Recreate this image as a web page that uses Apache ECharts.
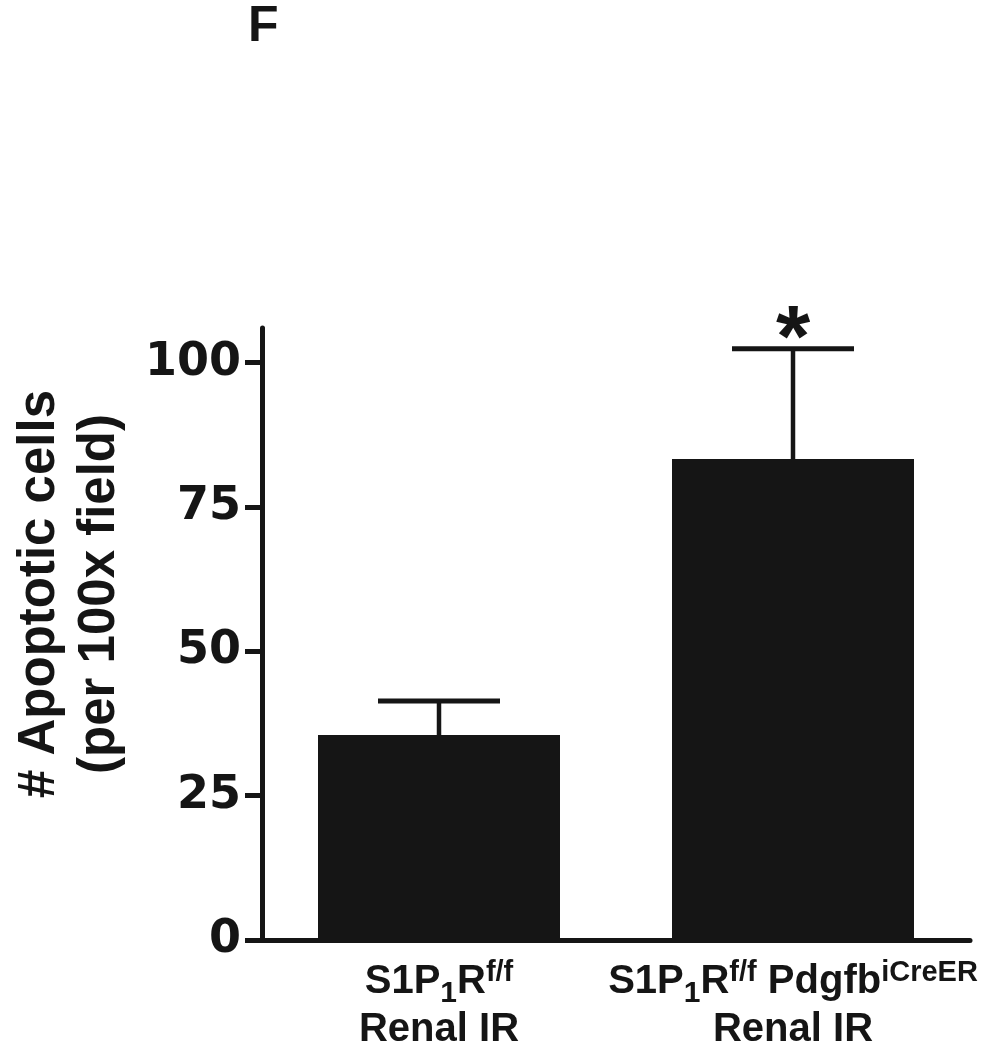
<!DOCTYPE html>
<html>
<head>
<meta charset="utf-8">
<script src="https://cdn.jsdelivr.net/npm/echarts@6/dist/echarts.min.js"></script>
<style>
  html, body { margin: 0; padding: 0; background: #fff; }
  #chart { width: 990px; height: 1050px; }
</style>
</head>
<body>
<div id="chart"></div>
<script>
// groups (rich text: sub / sup)
var groups = [
    '{n|S1P}{sub|1}{n|R}{sup|f/f}\n{n|Renal IR}',
    '{n|S1P}{sub|1}{n|R}{sup|f/f}{n| Pdgfb}{sup|iCreER}\n{n|Renal IR}'
];
var meanValues = [35.5, 83.3];
var semValues = [5.9, 19.1];
var marks = ['', '*'];
var yTicks = [0, 25, 50, 75, 100];

var ink = '#151515';
var myChart = echarts.init(document.getElementById('chart'));

function renderErr(params, api) {
    var i = api.value(0);
    var mean = api.value(1);
    var err = api.value(2);
    var base = api.coord([i, mean]);
    var top = api.coord([i, mean + err]);
    var half = 61;
    return {
        type: 'group',
        children: [
            { type: 'line', shape: { x1: base[0], y1: base[1], x2: top[0], y2: top[1] },
              style: { stroke: ink, lineWidth: 4.5 } },
            { type: 'line', shape: { x1: top[0] - half, y1: top[1], x2: top[0] + half, y2: top[1] },
              style: { stroke: ink, lineWidth: 5 } },
            { type: 'text', x: top[0], y: top[1] + 37,
              style: { text: marks[i], align: 'center', verticalAlign: 'bottom',
                       font: 'bold 88px "Liberation Sans", Arial, sans-serif', fill: ink } }
        ]
    };
}

var lblFont = '"Liberation Sans", Arial, sans-serif';
var option = {
    animation: false,
    backgroundColor: '#fff',
    title: {
        text: 'F',
        left: 243,
        top: -3,
        textStyle: { fontSize: 50, fontWeight: 'bold', fontFamily: 'Liberation Sans', color: ink }
    },
    grid: { left: 262, right: 20, top: 328, bottom: 107 },
    xAxis: {
        type: 'category',
        data: groups,
        axisLine: { lineStyle: { color: ink, width: 5 } },
        axisTick: { show: false },
        axisLabel: {
            margin: 18,
            interval: 0,
            rich: {
                n: { fontSize: 40, fontWeight: 'bold', fontFamily: lblFont, color: ink, lineHeight: 48 },
                sup: { fontSize: 29, fontWeight: 'bold', fontFamily: lblFont, color: ink, verticalAlign: 'top' },
                sub: { fontSize: 30, fontWeight: 'bold', fontFamily: lblFont, color: ink,
                       lineHeight: 20, padding: [21, 0, 0, 0], verticalAlign: 'top' }
            }
        }
    },
    yAxis: {
        type: 'value',
        min: 0,
        max: 106,
        interval: 25,
        name: '# Apoptotic cells\n(per 100x field)',
        nameLocation: 'middle',
        nameGap: 132,
        nameRotate: 90,
        nameTextStyle: {
            fontSize: 51, fontWeight: 'bold', fontFamily: 'Liberation Sans', color: ink,
            lineHeight: 60, padding: [0, 0, 0, 80]
        },
        splitLine: { show: false },
        axisLine: { show: true, lineStyle: { color: ink, width: 5 } },
        axisTick: { show: true, length: 17, lineStyle: { color: ink, width: 5 }, customValues: yTicks },
        axisLabel: {
            margin: 21,
            customValues: yTicks,
            fontSize: 46, fontWeight: 'bold', fontFamily: 'DejaVu Sans', color: ink
        }
    },
    series: [
        {
            type: 'bar',
            data: meanValues,
            barWidth: 242,
            itemStyle: { color: ink },
            z: 3
        },
        {
            type: 'custom',
            data: meanValues.map(function (m, i) { return [i, m, semValues[i]]; }),
            renderItem: renderErr,
            z: 2
        }
    ]
};
myChart.setOption(option);
</script>
</body>
</html>
